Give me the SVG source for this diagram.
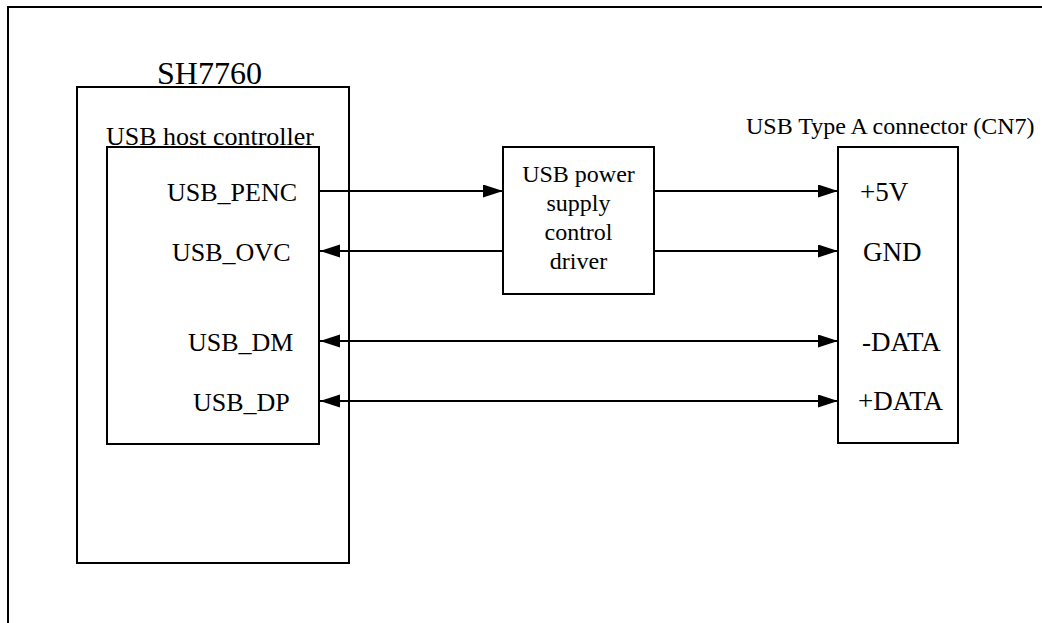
<svg xmlns="http://www.w3.org/2000/svg" width="1042" height="623" viewBox="0 0 1042 623">
<style>
  .box{fill:none;stroke:#000;stroke-width:2}
  .ln{fill:none;stroke:#000;stroke-width:2}
  text{font-family:"Liberation Serif","Times New Roman",serif;fill:#000}
  .pin{font-size:26px}
  .con{font-size:27px}
  .sm{font-size:24px}
</style>
<defs>
  <marker id="ah" markerUnits="userSpaceOnUse" markerWidth="20" markerHeight="14" refX="20" refY="6.5" orient="auto-start-reverse">
    <path d="M0,0 L20,6.5 L0,13 z" fill="#000"/>
  </marker>
</defs>
<rect width="1042" height="623" fill="#fff"/>
<path d="M8,623 V7 H1042" class="box" stroke-width="1.5"/>
<g id="sh7760">
  <rect class="box" x="77" y="87" width="272" height="476"/>
  <text x="157" y="84" font-size="32">SH7760</text>
</g>
<g id="usb-host-controller">
  <rect class="box" x="107" y="147" width="212" height="297"/>
  <text x="106" y="145" class="pin">USB host controller</text>
  <text x="167" y="201" class="pin">USB_PENC</text>
  <text x="172" y="261" class="pin">USB_OVC</text>
  <text x="188" y="351" class="pin">USB_DM</text>
  <text x="193" y="411" class="pin">USB_DP</text>
</g>
<g id="power-driver">
  <rect class="box" x="503" y="147" width="151" height="147"/>
  <text x="578.5" y="182" class="sm" text-anchor="middle">USB power</text>
  <text x="578.5" y="211" class="sm" text-anchor="middle">supply</text>
  <text x="578.5" y="240" class="sm" text-anchor="middle">control</text>
  <text x="578.5" y="269" class="sm" text-anchor="middle">driver</text>
</g>
<g id="cn7">
  <rect class="box" x="838" y="147" width="120" height="296"/>
  <text x="746" y="134" class="sm">USB Type A connector (CN7)</text>
  <text x="860" y="201" class="con">+5V</text>
  <text x="863" y="261" class="con">GND</text>
  <text x="862" y="351" class="con">-DATA</text>
  <text x="858" y="410" class="con">+DATA</text>
</g>
<g id="connectors">
  <line class="ln" x1="319" y1="191" x2="503" y2="191" marker-end="url(#ah)"/>
  <line class="ln" x1="503" y1="251" x2="320" y2="251" marker-end="url(#ah)"/>
  <line class="ln" x1="654" y1="191" x2="838" y2="191" marker-end="url(#ah)"/>
  <line class="ln" x1="654" y1="251" x2="838" y2="251" marker-end="url(#ah)"/>
  <line class="ln" x1="320" y1="341" x2="838" y2="341" marker-start="url(#ah)" marker-end="url(#ah)"/>
  <line class="ln" x1="320" y1="401" x2="838" y2="401" marker-start="url(#ah)" marker-end="url(#ah)"/>
</g>
</svg>
